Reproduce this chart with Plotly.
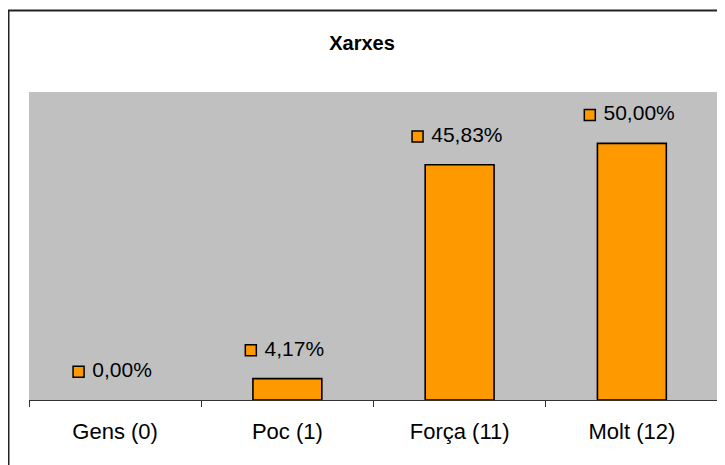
import plotly.graph_objects as go

# data
categories = ["Gens (0)", "Poc (1)", "Força (11)", "Molt (12)"]
values = [0.0, 4.17, 45.83, 50.0]
labels = ["0,00%", "4,17%", "45,83%", "50,00%"]

ORANGE = "#FF9900"
GRAY = "#C0C0C0"

fig = go.Figure()

fig.add_trace(go.Bar(
    x=categories, y=values, width=0.4,
    marker=dict(color=ORANGE,
                line=dict(color="black", width=[1.6 if v > 0 else 0 for v in values])),
    hoverinfo="skip", showlegend=False,
))

# data labels with the little legend key, on an overlaid numeric axis
pos = list(range(len(categories)))
offs = [-(5.5 * len(t) + 9) / 172 for t in labels]
fig.add_trace(go.Scatter(
    x=[p + o for p, o in zip(pos, offs)],
    y=[v + 5.5 for v in values],
    xaxis="x2", mode="markers+text",
    text=["\u00a0" + t for t in labels], textposition="middle right",
    textfont=dict(size=21, color="black"),
    marker=dict(symbol="square", size=11, color=ORANGE,
                line=dict(color="black", width=1.5)),
    cliponaxis=False, hoverinfo="skip", showlegend=False,
))

# page body has an 8px margin, so the figure is 8px smaller each way
fig.update_layout(
    width=717, height=457,
    paper_bgcolor="white", plot_bgcolor=GRAY,
    font=dict(family="Liberation Sans, Arial, sans-serif", color="black"),
    margin=dict(l=21, r=7, t=84, b=65),
    title=dict(
        text="<b>Xarxes</b>", x=354 / 717, xanchor="center",
        y=1 - 35 / 457, yref="container", yanchor="middle",
        font=dict(size=20, color="black"),
    ),
    xaxis=dict(
        type="category", range=[-0.5, 3.5], tickson="boundaries",
        ticks="outside", ticklen=6, tickcolor="#333333",
        showline=True, linecolor="#333333", linewidth=1,
        showgrid=False, tickfont=dict(size=22), ticklabelstandoff=12,
        fixedrange=True,
    ),
    xaxis2=dict(overlaying="x", range=[-0.5, 3.5], visible=False),
    yaxis=dict(range=[0, 60], visible=False, showgrid=False, zeroline=False),
    shapes=[dict(
        type="rect", xref="paper", yref="paper",
        x0=-20.5 / 689, x1=1.1, y0=-0.5, y1=(392 - 2.5) / 308,
        line=dict(color="#222222", width=2), layer="below",
    )],
)

fig.write_html("out.html")
